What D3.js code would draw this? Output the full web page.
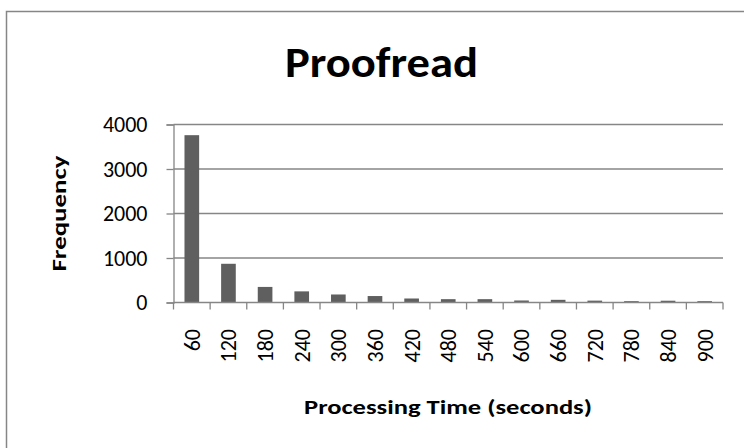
<!DOCTYPE html>
<html>
<head>
<meta charset="utf-8">
<script src="https://cdn.jsdelivr.net/npm/d3@7"></script>
<style>
  body { margin: 0; background: #fff; }
  svg text { font-family: Carlito, Calibri, "Open Sans", sans-serif; fill: #000; }
</style>
</head>
<body>
<div id="chart"></div>
<script>
// processing time bins (seconds) and how many proofread tasks fell in each
const times = [60, 120, 180, 240, 300, 360, 420, 480, 540, 600, 660, 720, 780, 840, 900];
const frequency = [3760, 870, 350, 250, 180, 145, 90, 75, 75, 45, 60, 42, 30, 40, 30];
const yTicks = [0, 1000, 2000, 3000, 4000];

function drawHistogram(id) {
  let width = 744, height = 448;
  let left = 173.5, right = 723, top = 124.5, bottom = 302.5;
  let gray = '#868686';

  let svg = d3.select(`#${id}`).append('svg')
    .attr('width', width)
    .attr('height', height);

  // chart frame, only the left and top edges fall inside the picture
  svg.append('rect')
    .attr('x', 6.5).attr('y', 11.5)
    .attr('width', 800).attr('height', 500)
    .attr('fill', 'none')
    .attr('stroke', gray)
    .attr('stroke-width', 1.5);

  let x = d3.scaleBand()
    .domain(times)
    .range([left, right])
    .paddingInner(0.6)
    .paddingOuter(0.3);

  let y = d3.scaleLinear()
    .domain([0, 4000])
    .range([bottom, top]);

  // gridlines
  svg.append('g')
    .selectAll('line')
    .data(yTicks.slice(1))
    .join('line')
    .attr('x1', left).attr('x2', right)
    .attr('y1', d => y(d)).attr('y2', d => y(d))
    .attr('stroke', gray)
    .attr('stroke-width', 1.3);

  // bars
  svg.append('g')
    .selectAll('rect')
    .data(times)
    .join('rect')
    .attr('x', d => x(d))
    .attr('width', x.bandwidth())
    .attr('y', (d, i) => y(frequency[i]))
    .attr('height', (d, i) => y(0) - y(frequency[i]))
    .attr('fill', '#5f5f5f');

  // y axis
  let yAxis = svg.append('g')
    .attr('transform', `translate(${left},0)`)
    .call(d3.axisLeft(y).tickValues(yTicks).tickFormat(d3.format('d')).tickSize(7).tickPadding(19));
  yAxis.select('.domain').attr('stroke', gray).attr('stroke-width', 1.3);
  yAxis.selectAll('.tick line').attr('stroke', gray).attr('stroke-width', 1.3);
  yAxis.selectAll('.tick text')
    .attr('font-size', 22)
    .attr('fill', '#000');

  // x axis: ticks sit on the category boundaries
  let step = x.step();
  let bounds = d3.range(times.length + 1).map(i => left + i * step);
  let xAxis = svg.append('g');
  xAxis.append('line')
    .attr('x1', left).attr('x2', right)
    .attr('y1', bottom).attr('y2', bottom)
    .attr('stroke', gray).attr('stroke-width', 1.3);
  xAxis.selectAll('line.tick')
    .data(bounds)
    .join('line')
    .attr('class', 'tick')
    .attr('x1', d => d).attr('x2', d => d)
    .attr('y1', bottom).attr('y2', bottom + 7)
    .attr('stroke', gray).attr('stroke-width', 1.3);
  xAxis.selectAll('text')
    .data(times)
    .join('text')
    .attr('transform', d => `translate(${x(d) + x.bandwidth() / 2},329) rotate(-90)`)
    .attr('text-anchor', 'end')
    .attr('dy', '0.36em')
    .attr('font-size', 22)
    .text(d => d);

  // titles
  svg.append('text')
    .attr('x', 381.5).attr('y', 76.5)
    .attr('text-anchor', 'middle')
    .attr('font-size', 42)
    .attr('font-weight', 'bold')
    .attr('textLength', 193)
    .attr('lengthAdjust', 'spacingAndGlyphs')
    .text('Proofread');

  svg.append('text')
    .attr('transform', `translate(66,${(top + bottom) / 2}) rotate(-90)`)
    .attr('text-anchor', 'middle')
    .attr('font-size', 21)
    .attr('font-weight', 'bold')
    .attr('textLength', 116)
    .attr('lengthAdjust', 'spacingAndGlyphs')
    .text('Frequency');

  svg.append('text')
    .attr('x', 448).attr('y', 414)
    .attr('text-anchor', 'middle')
    .attr('font-size', 21)
    .attr('font-weight', 'bold')
    .attr('textLength', 288)
    .attr('lengthAdjust', 'spacingAndGlyphs')
    .text('Processing Time (seconds)');
}

drawHistogram('chart');
</script>
</body>
</html>
